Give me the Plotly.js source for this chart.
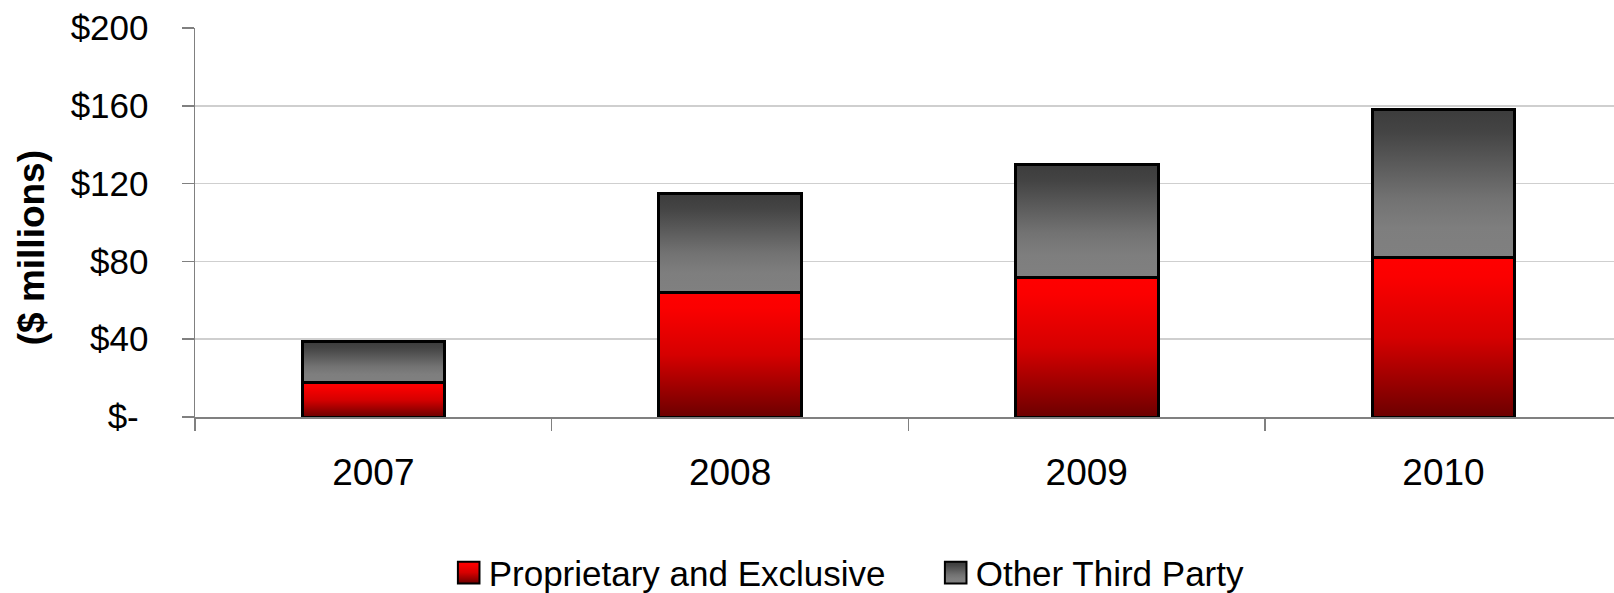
<!DOCTYPE html>
<html>
<head>
<meta charset="utf-8">
<script src="https://cdn.plot.ly/plotly-3.0.1.min.js"></script>
<style>
html,body{margin:0;padding:0;background:#fff;}
#chart{width:1614px;height:593px;}
</style>
</head>
<body>
<div id="chart"></div>
<script>
const years = ['2007', '2008', '2009', '2010'];
const proprietary = [17.7, 64.0, 71.5, 82.0];
const otherThirdParty = [20.9, 50.9, 58.5, 76.0];
const yTickVals = [0, 40, 80, 120, 160, 200];
const yTickText = ['$-\u00a0', '$40', '$80', '$120', '$160', '$200'];
const seriesNames = ['Proprietary and Exclusive', 'Other Third Party'];

const FONT = 'Liberation Sans, Arial, sans-serif';

const traces = [
  {
    type: 'bar', name: seriesNames[0], x: years, y: proprietary,
    marker: {color: '#d00000', line: {color: '#000000', width: 3}},
    hoverinfo: 'none'
  },
  {
    type: 'bar', name: seriesNames[1], x: years, y: otherThirdParty,
    marker: {color: '#606060', line: {color: '#000000', width: 3}},
    hoverinfo: 'none'
  }
];

const layout = {
  width: 1614, height: 593,
  margin: {l: 195, r: 0, t: 28, b: 176, pad: 0},
  paper_bgcolor: '#ffffff', plot_bgcolor: '#ffffff',
  barmode: 'stack', bargap: 0.6,
  font: {family: FONT, color: '#000000'},
  showlegend: true,
  legend: {
    orientation: 'h', xref: 'container', yref: 'container',
    x: 0.278, xanchor: 'left', y: 0.034, yanchor: 'middle',
    font: {family: FONT, size: 35, color: '#000000'},
    entrywidth: 442, entrywidthmode: 'pixels',
    traceorder: 'normal', bgcolor: 'rgba(0,0,0,0)', borderwidth: 0
  },
  xaxis: {
    type: 'category', range: [-0.5, 3.478],
    showline: true, linecolor: '#808080', linewidth: 1.5,
    ticks: 'outside', tickson: 'boundaries', ticklen: 12, tickcolor: '#808080', tickwidth: 1.5,
    tickfont: {family: FONT, size: 37, color: '#000000'},
    ticklabelstandoff: 22,
    showgrid: false, zeroline: false, fixedrange: true
  },
  yaxis: {
    range: [0, 200], tickvals: yTickVals, ticktext: yTickText,
    showline: true, linecolor: '#808080', linewidth: 1.5,
    ticks: 'outside', ticklen: 12, tickcolor: '#808080', tickwidth: 1.5,
    tickfont: {family: FONT, size: 35, color: '#000000'},
    ticklabelstandoff: 26,
    showgrid: true, gridcolor: '#cfcfcf', gridwidth: 1.5,
    zeroline: false, fixedrange: true
  },
  annotations: [{
    text: '<b>($ millions)</b>', textangle: -90,
    xref: 'paper', yref: 'paper', x: -0.1155, y: 0.434,
    xanchor: 'center', yanchor: 'middle', showarrow: false,
    font: {family: FONT, size: 37, color: '#000000'}
  }]
};

const gd = document.getElementById('chart');
Plotly.newPlot(gd, traces, layout, {displayModeBar: false, staticPlot: true}).then(function () {
  const svg = gd.querySelector('svg.main-svg');
  const ns = 'http://www.w3.org/2000/svg';
  let defs = svg.querySelector('defs');
  if (!defs) { defs = document.createElementNS(ns, 'defs'); svg.insertBefore(defs, svg.firstChild); }
  function grad(id, stops) {
    const g = document.createElementNS(ns, 'linearGradient');
    g.setAttribute('id', id);
    g.setAttribute('x1', '0'); g.setAttribute('y1', '0');
    g.setAttribute('x2', '0'); g.setAttribute('y2', '1');
    stops.forEach(function (s) {
      const st = document.createElementNS(ns, 'stop');
      st.setAttribute('offset', s[0]);
      st.setAttribute('stop-color', s[1]);
      g.appendChild(st);
    });
    defs.appendChild(g);
  }
  grad('gradRed', [['0', '#ff0000'], ['0.12', '#fb0000'], ['0.5', '#d60000'], ['1', '#6c0000']]);
  grad('gradGray', [['0', '#3c3c3c'], ['0.15', '#444444'], ['0.6', '#727272'], ['0.8', '#7e7e7e'], ['1', '#808080']]);
  const ids = ['gradRed', 'gradGray'];
  gd.querySelectorAll('.barlayer .trace').forEach(function (t, i) {
    t.querySelectorAll('path').forEach(function (p) { p.style.fill = 'url(#' + ids[i] + ')'; });
  });
  gd.querySelectorAll('.legend .traces').forEach(function (t, i) {
    t.querySelectorAll('.legendpoints path').forEach(function (p) {
      p.style.fill = 'url(#' + ids[i] + ')';
      p.style.strokeWidth = '2px';
      p.setAttribute('transform', 'translate(20,0) scale(1.8)');
      p.style.vectorEffect = 'non-scaling-stroke';
    });
  });
});
</script>
</body>
</html>
